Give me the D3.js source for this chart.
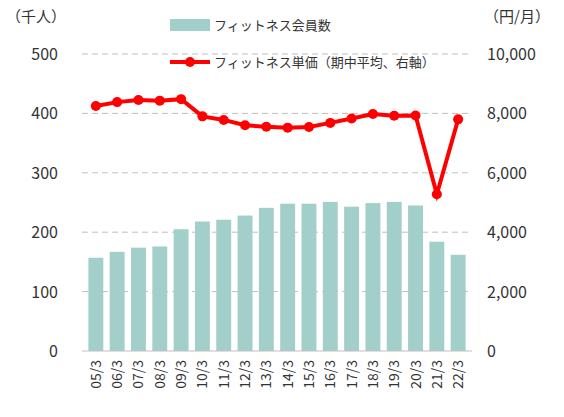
<!DOCTYPE html>
<html><head><meta charset="utf-8">
<script src="https://cdn.jsdelivr.net/npm/d3@7"></script>
<style>body{margin:0;background:#fff}text{font-family:"Noto Sans CJK JP",sans-serif}</style>
</head><body><svg width="564" height="417"></svg>
<script>
const categories = ['05/3','06/3','07/3','08/3','09/3','10/3','11/3','12/3','13/3','14/3','15/3','16/3','17/3','18/3','19/3','20/3','21/3','22/3']
const members = [157,167,174,176,205,218,221,228,241,248,248,251,243,249,251,245,184,162]
const prices = [8250,8380,8450,8430,8480,7900,7780,7600,7550,7520,7540,7680,7830,7980,7920,7930,5280,7800]
const leftTicks = [0,100,200,300,400,500]
const rightTicks = [0,2000,4000,6000,8000,10000]

const svg = d3.select('svg')
const x = d3.scaleBand().domain(categories).range([82, 472]).padding(0.3)
const yL = d3.scaleLinear().domain([0, 500]).range([351, 54])
const yR = d3.scaleLinear().domain([0, 10000]).range([351, 54])

// grid
svg.selectAll('.grid').data(leftTicks.slice(1)).join('line')
  .attr('x1', 82).attr('x2', 472).attr('y1', d => yL(d)).attr('y2', d => yL(d))
  .attr('stroke', '#bfbfbf').attr('stroke-dasharray', '6,4')

svg.selectAll('.bar').data(members).join('rect')
  .attr('x', (d, i) => x(categories[i])).attr('width', x.bandwidth())
  .attr('y', d => yL(d)).attr('height', d => yL(0) - yL(d)).attr('fill', '#a2cfc9')

svg.append('line').attr('x1', 82).attr('x2', 472).attr('y1', 351).attr('y2', 351).attr('stroke', '#bfbfbf')

const line = d3.line().x((d, i) => x(categories[i]) + x.bandwidth() / 2).y(d => yR(d))
svg.append('path').datum(prices).attr('d', line).attr('fill', 'none').attr('stroke', '#ff0000').attr('stroke-width', 4)
svg.selectAll('.pt').data(prices).join('circle')
  .attr('cx', (d, i) => x(categories[i]) + x.bandwidth() / 2).attr('cy', d => yR(d)).attr('r', 5).attr('fill', '#ff0000')

svg.selectAll('.lt').data(leftTicks).join('text')
  .attr('x', 58).attr('y', d => yL(d) + 6).attr('text-anchor', 'end').attr('font-size', 16).attr('fill', '#333').text(d => d)
svg.selectAll('.rt').data(rightTicks).join('text')
  .attr('x', 487).attr('y', d => yR(d) + 6).attr('font-size', 16).attr('fill', '#333').text(d => d3.format(',')(d))

svg.selectAll('.xt').data(categories).join('text')
  .attr('transform', d => `translate(${x(d) + x.bandwidth() / 2 + 5},360) rotate(-90)`)
  .attr('text-anchor', 'end').attr('font-size', 14).attr('fill', '#333').text(d => d)

svg.append('text').attr('x', 6).attr('y', 22).attr('font-size', 15).attr('fill', '#333').text('（千人）')
svg.append('text').attr('x', 484).attr('y', 22).attr('font-size', 15).attr('fill', '#333').text('（円/月）')

// legend
svg.append('rect').attr('x', 170).attr('y', 19).attr('width', 40).attr('height', 12).attr('fill', '#a2cfc9')
svg.append('text').attr('x', 214).attr('y', 30).attr('font-size', 13).attr('fill', '#333').text('フィットネス会員数')
svg.append('line').attr('x1', 170).attr('x2', 210).attr('y1', 62).attr('y2', 62).attr('stroke', '#ff0000').attr('stroke-width', 4)
svg.append('circle').attr('cx', 190).attr('cy', 62).attr('r', 5).attr('fill', '#ff0000')
svg.append('text').attr('x', 214).attr('y', 67).attr('font-size', 13).attr('fill', '#333').text('フィットネス単価（期中平均、右軸）')
</script></body></html>
